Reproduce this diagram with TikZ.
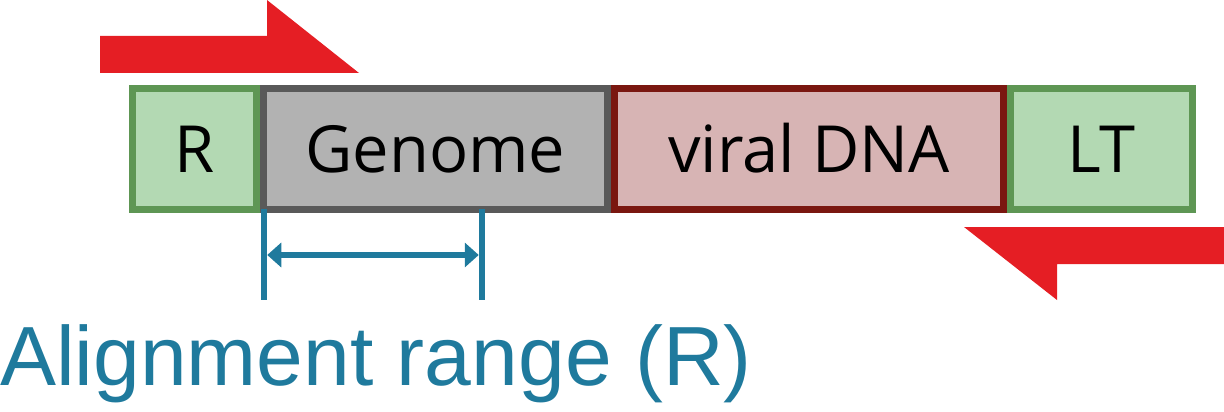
\documentclass[tikz,border=0pt]{standalone}
\usepackage{fontspec}
\setmainfont{Open Sans}
\newfontfamily\alignfont{Liberation Sans}
\usetikzlibrary{arrows.meta}
\definecolor{grfill}{RGB}{179,217,179}
\definecolor{grdraw}{RGB}{94,150,84}
\definecolor{gyfill}{RGB}{178,178,178}
\definecolor{gydraw}{RGB}{89,89,89}
\definecolor{pkfill}{RGB}{215,180,180}
\definecolor{pkdraw}{RGB}{122,23,16}
\definecolor{arrred}{RGB}{229,30,36}
\definecolor{dimblue}{RGB}{31,122,157}
\tikzset{
  seg/.style={draw, line width=7pt, minimum height=121pt, inner sep=0pt,
    text height=46.4pt, text depth=0pt,
    font=\fontsize{65}{78}\selectfont},
  flank/.style={seg, fill=grfill, draw=grdraw},
  genome/.style={seg, fill=gyfill, draw=gydraw},
  viral/.style={seg, fill=pkfill, draw=pkdraw},
  primer/.style={fill=arrred, draw=none},
  tick/.style={draw=dimblue, line width=6.5pt},
  dimline/.style={draw=dimblue, line width=6.5pt,
    {Triangle[length=14pt,width=24pt]}-{Triangle[length=14pt,width=24pt]}}
}
\begin{document}
\begin{tikzpicture}[x=1pt,y=-1pt]
\useasboundingbox (0,0) rectangle (1224,412);
% primers
\fill[primer] (100,36) -- (267,36) -- (267,0) -- (359,73) -- (100,73) -- cycle;
\fill[primer] (1224,227) -- (964,227) -- (1057,300) -- (1057,264) -- (1224,264) -- cycle;
% segments
\node[flank, minimum width=124pt] (r) at (194.5,149) {R};
\node[genome, minimum width=344pt] (g) at (435.5,149) {Genome};
\node[viral, minimum width=389pt] (v) at (809,149) {viral DNA};
\node[flank, minimum width=182pt] (lt) at (1101.5,149) {LT};
% alignment range
\coordinate (lt1) at (264,209);
\coordinate (lt2) at (264,300);
\coordinate (rt1) at (482,209);
\coordinate (rt2) at (482,300);
\coordinate (da) at (267.25,255);
\coordinate (db) at (478.75,255);
\draw[tick] (lt1) -- (lt2);
\draw[tick] (rt1) -- (rt2);
\draw[dimline] (da) -- (db);
\node[anchor=base west, inner sep=0pt, text=dimblue,
  font=\alignfont\fontsize{84}{100}\selectfont] (lab) at (0,385) {Alignment range (R)};
\end{tikzpicture}
\end{document}
